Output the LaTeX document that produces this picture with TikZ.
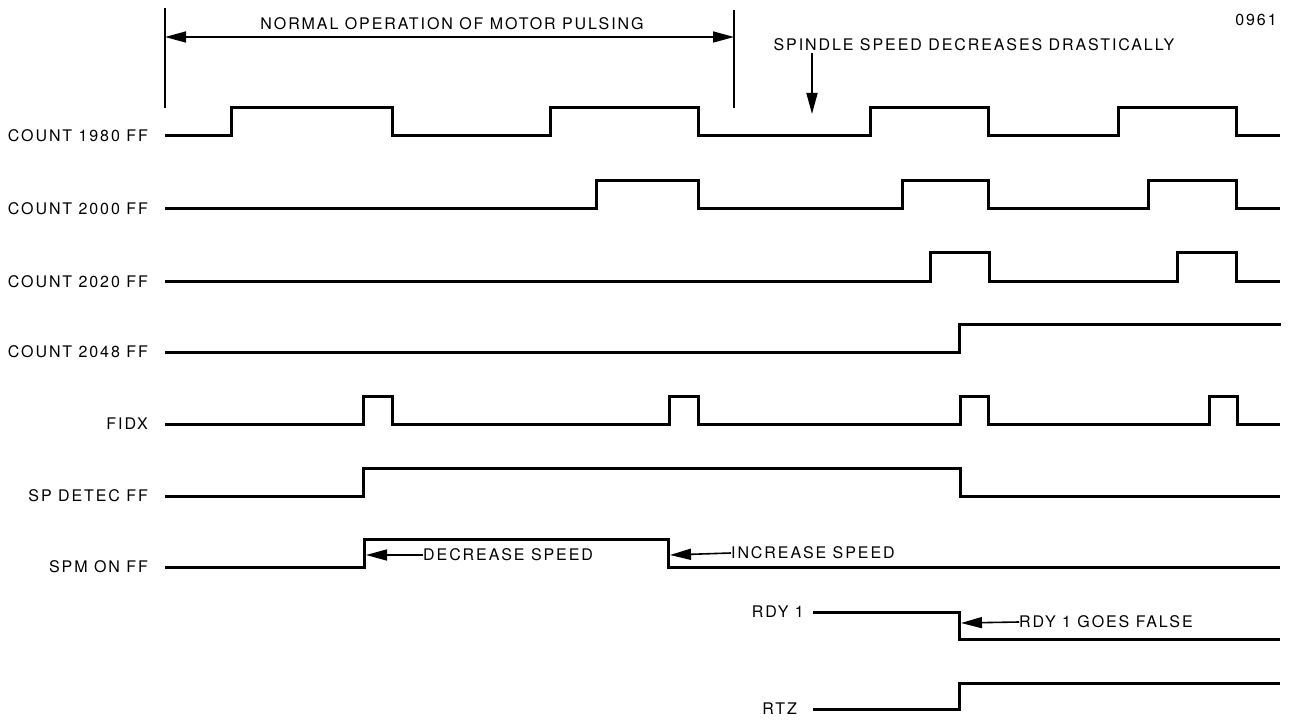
\documentclass[tikz,border=0pt]{standalone}
\usepackage{fontspec}
\setmainfont{TeX Gyre Heros}[LetterSpace=12]
\usetikzlibrary{arrows.meta}

\tikzset{
  sig/.style={anchor=east,inner sep=0pt},
  note/.style={anchor=west,inner sep=0pt},
  wave/.style={line width=3pt},
  pointer/.style={line width=1.6pt,-{Triangle[length=21pt,width=11pt]}},
}

\begin{document}
\begin{tikzpicture}[x=1pt,y=-1pt,font=\fontsize{16pt}{18pt}\selectfont]
\useasboundingbox (0,0) rectangle (1291,722);
% signal names
\foreach \y/\n/\t in {136/c1980/COUNT 1980 FF,209/c2000/COUNT 2000 FF,282/c2020/COUNT 2020 FF,
    352/c2048/COUNT 2048 FF,424/fidx/FIDX,496/spdet/SP DETEC FF,567/spmon/SPM ON FF}
  \node[sig] (\n) at (148,\y) {\t};
\node[sig] (rdy) at (804,612) {RDY 1};
\node[sig] (rtz) at (797,709) {RTZ};
% waveforms
\draw[wave] (165,136) -| (231,108) -| (392,136) -| (550,108) -| (698,136) -| (870,108)
  -| (988,136) -| (1118,108) -| (1236,136) -- (1280,136);
\draw[wave] (165,209) -| (596,181) -| (698,209) -| (902,181) -| (988,209) -| (1148,181)
  -| (1236,209) -- (1280,209);
\draw[wave] (165,282) -| (930,253) -| (989,282) -| (1177,253) -| (1236,282) -- (1280,282);
\draw[wave] (165,352) -| (959,324) -- (1281,324);
\draw[wave] (165,424) -| (363,396) -| (392,424) -| (669,396) -| (698,424) -| (960,396)
  -| (988,424) -| (1209,396) -| (1237,424) -- (1280,424);
\draw[wave] (165,496) -| (363,468) -| (960,496) -- (1280,496);
\draw[wave] (165,567) -| (364,539) -| (668,567) -- (1280,567);
\draw[wave] (813,612) -| (959,639) -- (1280,639);
\draw[wave] (813,709) -| (959,683) -- (1280,683);
% span of normal operation
\draw[line width=1.8pt] (165,8) -- (165,108);
\draw[line width=1.8pt] (734,10) -- (734,108);
\coordinate (nl) at (165,37);
\coordinate (nr) at (734,37);
\draw[pointer,{Triangle[length=21pt,width=11pt]}-{Triangle[length=21pt,width=11pt]}] (nl) -- (nr);
\node (normal) at (452,24) {NORMAL OPERATION OF MOTOR PULSING};
% spindle note
\node (spindle) at (974,45) {SPINDLE SPEED DECREASES DRASTICALLY};
\coordinate (drop) at (812,114);
\draw[pointer] (812,53) -- (drop);
\node (fig) at (1256,20) {0961};
% edge notes
\node[note] (dec) at (423,555) {DECREASE SPEED};
\coordinate (decedge) at (366,555);
\draw[pointer] (dec.west) -- (decedge);
\node[note] (inc) at (731,553) {INCREASE SPEED};
\coordinate (incedge) at (670,555);
\draw[pointer] (inc.west) -- (incedge);
\node[note] (rdyf) at (1019,622) {RDY 1 GOES FALSE};
\coordinate (rdyedge) at (961,623);
\draw[pointer] (rdyf.west) -- (rdyedge);
\end{tikzpicture}
\end{document}
